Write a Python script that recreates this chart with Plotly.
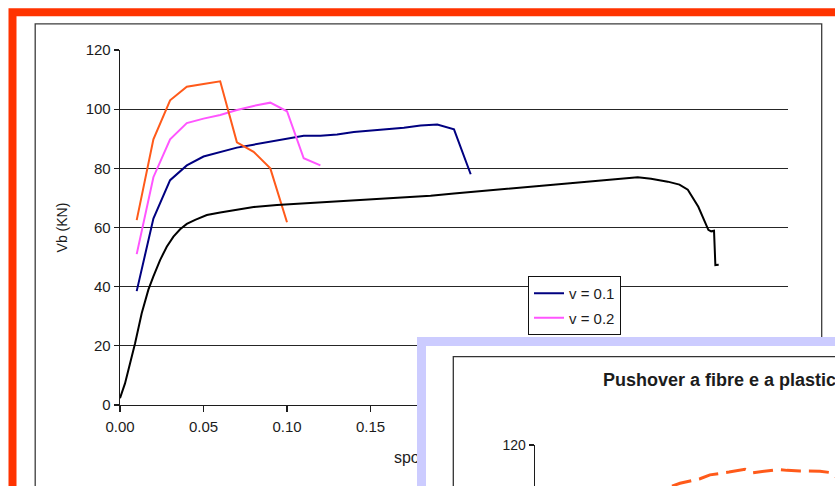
import plotly.graph_objects as go

W, H = 835, 486

# Pushover curves: base shear Vb (kN) against top displacement (m)
disp_v01 = [0.01, 0.02, 0.03, 0.04, 0.05, 0.06, 0.07, 0.08, 0.09, 0.10, 0.11,
            0.12, 0.13, 0.14, 0.15, 0.16, 0.17, 0.18, 0.19, 0.20, 0.21]
vb_v01 = [38.5, 63.0, 76.0, 81.0, 84.0, 85.6, 87.0, 88.0, 89.0, 90.2, 91.0,
          91.0, 91.4, 92.3, 92.7, 93.2, 93.7, 94.5, 94.8, 93.2, 78.0]

disp_v02 = [0.01, 0.02, 0.03, 0.04, 0.05, 0.06, 0.07, 0.08, 0.09, 0.10, 0.11, 0.12]
vb_v02 = [51.0, 77.0, 89.8, 95.3, 96.8, 98.0, 99.7, 101.1, 102.2, 99.3, 83.4, 81.0]

disp_v03 = [0.01, 0.02, 0.03, 0.04, 0.05, 0.06, 0.07, 0.08, 0.09, 0.10]
vb_v03 = [62.5, 89.8, 103.0, 107.6, 108.5, 109.4, 88.8, 85.6, 80.0, 61.8]

disp_v0 = [0.000, 0.003, 0.006, 0.009, 0.013, 0.017, 0.020, 0.024, 0.028, 0.032,
           0.036, 0.040, 0.045, 0.052, 0.060, 0.070, 0.080, 0.094, 0.108, 0.126,
           0.140, 0.156, 0.170, 0.186, 0.200, 0.216, 0.230, 0.246, 0.260, 0.276,
           0.296, 0.310, 0.318, 0.328, 0.335, 0.340, 0.3463, 0.3503, 0.3523,
           0.3540, 0.3557, 0.3565, 0.3585]
vb_v0 = [2.3, 7.3, 14.0, 20.8, 31.0, 39.0, 43.5, 49.0, 53.5, 56.9,
         59.4, 61.2, 62.6, 64.2, 65.1, 66.1, 66.9, 67.6, 68.1, 68.7,
         69.1, 69.6, 70.2, 70.7, 71.5, 72.3, 73.0, 73.8, 74.6, 75.5,
         76.3, 77.0, 76.5, 75.5, 74.5, 72.8, 67.0, 62.0, 59.2,
         58.7, 58.9, 47.3, 47.4]

# Second chart: fibre model pushover (upper part of the curve)
disp_fibre = [0.0685, 0.0725, 0.0825, 0.0875, 0.097, 0.105, 0.109, 0.1125,
              0.1175, 0.1215, 0.126, 0.1325, 0.1425, 0.1475, 0.150, 0.155]
vb_fibre = [100.9, 102.2, 104.3, 106.1, 107.4, 108.7, 107.1, 107.6,
            108.1, 108.6, 108.2, 107.9, 107.8, 107.2, 105.6, 101.0]

x_ticks = [0.00, 0.05, 0.10, 0.15, 0.20, 0.25, 0.30, 0.35, 0.40]
y_ticks = [0, 20, 40, 60, 80, 100, 120]
inset_y_ticks = [100, 120]

X_TITLE = "spostamento (m)"

FONT = "Liberation Sans, Arial, sans-serif"
INK = "#1c1c1c"


def fx(p):
    return p / W


def fy(p):
    return 1 - p / H


fig = go.Figure()

series = [
    ("v = 0.1", disp_v01, vb_v01, "#000080", True),
    ("v = 0.2", disp_v02, vb_v02, "#ff55ff", True),
    ("v = 0.3", disp_v03, vb_v03, "#ff5a1a", False),
    ("v = 0", disp_v0, vb_v0, "#000000", False),
]
for name, xs, ys, color, show in series:
    fig.add_trace(go.Scatter(
        x=xs, y=ys, name=name, mode="lines",
        line=dict(color=color, width=2),
        showlegend=show, legendgroup=name,
        xaxis="x", yaxis="y", hoverinfo="skip",
    ))

# x-axis title strip under the main chart (its own subplot, drawn before the second chart)
fig.add_trace(go.Scatter(
    x=[(x_ticks[0] + x_ticks[-1]) / 2], y=[0], mode="text",
    text=[X_TITLE], textposition="middle center",
    textfont=dict(family=FONT, size=16, color=INK),
    cliponaxis=False, showlegend=False, hoverinfo="skip",
    xaxis="x2", yaxis="y2",
))

# backing panel of the second chart
fig.add_trace(go.Scatter(x=[], y=[], xaxis="x3", yaxis="y3",
                         showlegend=False, hoverinfo="skip"))

fig.add_trace(go.Scatter(
    x=disp_fibre, y=vb_fibre, mode="lines",
    line=dict(color="#ff5a1a", width=3, dash="20px,8px"),
    showlegend=False, hoverinfo="skip", xaxis="x4", yaxis="y4",
))

fig.update_layout(
    width=W, height=H, autosize=False,
    margin=dict(l=0, r=0, t=0, b=0, pad=0, autoexpand=False),
    paper_bgcolor="white", plot_bgcolor="rgba(0,0,0,0)",
    font=dict(family=FONT, color=INK),
    showlegend=True,
    legend=dict(
        x=fx(528), y=fy(276), xanchor="left", yanchor="top",
        bgcolor="white", bordercolor="#111", borderwidth=1,
        font=dict(family=FONT, size=15, color=INK),
        tracegroupgap=2, traceorder="grouped",
    ),
    xaxis=dict(
        domain=[fx(120), fx(788)], range=[0, 0.4], anchor="y", automargin=False,
        tickvals=x_ticks, tickformat=".2f", ticklabelstandoff=2,
        showline=True, linecolor=INK, linewidth=1.3,
        ticks="outside", ticklen=6, tickcolor=INK, tickwidth=1.3,
        tickfont=dict(size=15, color=INK),
        showgrid=False, zeroline=False, fixedrange=True,
    ),
    yaxis=dict(
        domain=[fy(405), fy(50)], range=[0, 120], anchor="x", automargin=False,
        tickvals=y_ticks,
        showline=True, linecolor=INK, linewidth=1.3,
        ticks="outside", ticklen=5, tickcolor=INK, tickwidth=1.3,
        tickfont=dict(size=15, color=INK),
        showgrid=True, gridcolor="#262626", gridwidth=1.3,
        zeroline=False, fixedrange=True,
        title=dict(text="Vb (KN)", font=dict(size=14, color=INK), standoff=14),
    ),
    xaxis2=dict(domain=[fx(120), fx(788)], range=[0, 0.4], anchor="y2",
                visible=False, fixedrange=True, automargin=False),
    yaxis2=dict(domain=[fy(478), fy(440)], range=[-1, 1], anchor="x2",
                visible=False, fixedrange=True, automargin=False),
    xaxis3=dict(domain=[fx(417), 1], range=[417, 835], anchor="y3",
                visible=False, fixedrange=True, automargin=False),
    yaxis3=dict(domain=[0, fy(337)], range=[0, H - 337], anchor="x3",
                visible=False, fixedrange=True, automargin=False),
    xaxis4=dict(domain=[fx(535), 1], range=[0, 0.15], anchor="y4",
                visible=False, fixedrange=True, automargin=False),
    yaxis4=dict(
        domain=[0, fy(445)], range=[100.93, 120], anchor="x4", automargin=False,
        tickvals=inset_y_ticks,
        showline=True, linecolor=INK, linewidth=1.3,
        ticks="outside", ticklen=5, tickcolor=INK, tickwidth=1.3,
        tickfont=dict(size=14, color=INK),
        showgrid=True, gridcolor="#262626", gridwidth=1.3,
        zeroline=False, fixedrange=True,
    ),
)

shapes = [
    # chart frame
    dict(type="rect", xref="paper", yref="paper",
         x0=fx(35.2), x1=fx(821.7), y0=fy(700), y1=fy(23.8),
         line=dict(color="#3c3c3c", width=1.3), layer="below"),
    # red outline around the page
    dict(type="rect", xref="paper", yref="paper",
         x0=fx(12.5), x1=fx(900), y0=fy(700), y1=fy(12.2),
         line=dict(color="#ff3300", width=8), layer="above"),
    # second chart: lavender border, white page, chart frame
    dict(type="rect", xref="x3", yref="y3", x0=417, x1=900, y0=-40, y1=H - 337,
         fillcolor="#ccccff", line=dict(width=0), layer="below"),
    dict(type="rect", xref="x3", yref="y3", x0=426, x1=900, y0=-40, y1=H - 346,
         fillcolor="white", line=dict(width=0), layer="below"),
    dict(type="rect", xref="x3", yref="y3", x0=453.3, x1=900, y0=-40, y1=H - 356.7,
         line=dict(color="#333333", width=1.3), layer="below"),
]
fig.update_layout(shapes=shapes)

fig.add_annotation(
    xref="paper", yref="paper", x=fx(601), y=fy(380),
    xanchor="left", yanchor="middle", showarrow=False,
    text="<b>Pushover a fibre e a plasticità concentrata</b>",
    font=dict(family=FONT, size=18, color=INK),
)

fig.write_html("out.html", config={"displayModeBar": False, "staticPlot": True})
